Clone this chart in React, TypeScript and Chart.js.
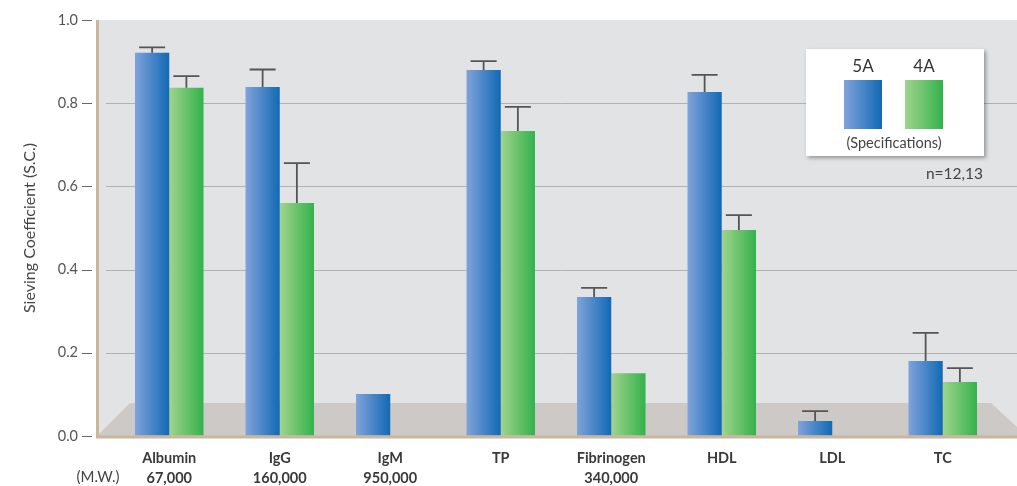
import React, { useEffect, useRef } from "react";
import { Chart, registerables } from "chart.js";

Chart.register(...registerables);

const categories: string[][] = [
  ["Albumin", "67,000"],
  ["IgG", "160,000"],
  ["IgM", "950,000"],
  ["TP"],
  ["Fibrinogen", "340,000"],
  ["HDL"],
  ["LDL"],
  ["TC"],
];
const series5A: (number | null)[] = [0.921, 0.839, 0.101, 0.88, 0.334, 0.827, 0.036, 0.18];
const series4A: (number | null)[] = [0.837, 0.56, null, 0.733, 0.151, 0.495, null, 0.13];
const err5A: (number | null)[] = [0.013, 0.042, null, 0.021, 0.022, 0.041, 0.024, 0.068];
const err4A: (number | null)[] = [0.028, 0.096, null, 0.058, null, 0.036, null, 0.033];
const yTicks: number[] = [0, 0.2, 0.4, 0.6, 0.8, 1.0];
const legendNames: string[] = ["5A", "4A"];
const legendNote = "(Specifications)";
const sampleNote = "n=12,13";
const mwLabel = "(M.W.)";
const yTitle = "Sieving Coefficient (S.C.)";

const FONT = "Lato, 'Open Sans', sans-serif";
const CAT_PCT = 0.62;
const gradStops = [
  ["#80a3da", "#1169b5"],
  ["#a0d48e", "#33b24b"],
];

function barGradient(c: any, dsIndex: number) {
  const chart = c.chart;
  const xs = chart.scales && chart.scales.x;
  if (!xs || c.dataIndex === undefined || !chart.chartArea) return gradStops[dsIndex][1];
  const center = xs.getPixelForValue(c.dataIndex);
  const w = (xs.width / categories.length) * CAT_PCT / 2;
  const x0 = dsIndex === 0 ? center - w : center;
  const g = chart.ctx.createLinearGradient(x0, 0, x0 + w, 0);
  g.addColorStop(0, gradStops[dsIndex][0]);
  g.addColorStop(1, gradStops[dsIndex][1]);
  return g;
}

const backgroundPlugin = {
  id: "bgPlugin",
  beforeDraw(chart: any) {
    const { ctx, chartArea, scales } = chart;
    const ys = scales.y;
    const left = 97;
    const right = chart.width;
    const top = chartArea.top;
    const bottom = ys.getPixelForValue(0);
    ctx.save();
    ctx.fillStyle = "#e2e3e5";
    ctx.fillRect(left, top, right - left, bottom - top);
    // floor
    const floorTop = bottom - 33;
    ctx.fillStyle = "#cdc9c6";
    ctx.beginPath();
    ctx.moveTo(left, bottom);
    ctx.lineTo(left + 33, floorTop);
    ctx.lineTo(right - 26, floorTop);
    ctx.lineTo(right, floorTop + 24);
    ctx.lineTo(right, bottom);
    ctx.closePath();
    ctx.fill();
    // grid lines
    ctx.strokeStyle = "#b0b1b3";
    ctx.lineWidth = 1;
    yTicks.forEach((t) => {
      if (t === 0 || t === 1) return;
      const y = Math.round(ys.getPixelForValue(t)) + 0.5;
      ctx.beginPath();
      ctx.moveTo(106, y);
      ctx.lineTo(right, y);
      ctx.stroke();
    });
    // tick dashes
    ctx.strokeStyle = "#666";
    yTicks.forEach((t) => {
      const y = Math.round(ys.getPixelForValue(t)) + 0.5;
      ctx.beginPath();
      ctx.moveTo(82, y);
      ctx.lineTo(92, y);
      ctx.stroke();
    });
    ctx.restore();
  },
  afterDatasetsDraw(chart: any) {
    const { ctx, scales } = chart;
    const ys = scales.y;
    const bottom = ys.getPixelForValue(0);
    const right = chart.width;
    const errs = [err5A, err4A];
    const vals = [series5A, series4A];
    ctx.save();
    ctx.strokeStyle = "#555";
    ctx.lineWidth = 1.8;
    [0, 1].forEach((di) => {
      const meta = chart.getDatasetMeta(di);
      meta.data.forEach((el: any, i: number) => {
        const v = vals[di][i];
        const e = errs[di][i];
        if (v == null || e == null) return;
        const yTop = ys.getPixelForValue(v + e);
        const cap = el.width * 0.76;
        ctx.beginPath();
        ctx.moveTo(el.x, el.y);
        ctx.lineTo(el.x, yTop);
        ctx.moveTo(el.x - cap / 2, yTop);
        ctx.lineTo(el.x + cap / 2, yTop);
        ctx.stroke();
      });
    });
    // frame: left and bottom tan lines
    ctx.strokeStyle = "#c8b79c";
    ctx.lineWidth = 3;
    ctx.beginPath();
    ctx.moveTo(97.5, chart.chartArea.top);
    ctx.lineTo(97.5, bottom + 1);
    ctx.lineTo(right, bottom + 1);
    ctx.stroke();
    ctx.restore();
  },
  afterDraw(chart: any) {
    const { ctx } = chart;
    ctx.save();
    // legend box
    ctx.shadowColor = "rgba(0,0,0,0.35)";
    ctx.shadowBlur = 4;
    ctx.shadowOffsetX = 2;
    ctx.shadowOffsetY = 2;
    ctx.fillStyle = "#ffffff";
    ctx.fillRect(806, 49, 178, 107);
    ctx.shadowColor = "transparent";
    ctx.shadowBlur = 0;
    ctx.shadowOffsetX = 0;
    ctx.shadowOffsetY = 0;
    const swX = [844, 905];
    swX.forEach((x, i) => {
      const g = ctx.createLinearGradient(x, 0, x + 38, 0);
      g.addColorStop(0, gradStops[i][0]);
      g.addColorStop(1, gradStops[i][1]);
      ctx.fillStyle = g;
      ctx.fillRect(x, 80, 38, 49);
      ctx.fillStyle = "#333";
      ctx.font = `17px ${FONT}`;
      ctx.textAlign = "center";
      ctx.textBaseline = "middle";
      ctx.fillText(legendNames[i], x + 19, 67);
    });
    ctx.fillStyle = "#444";
    ctx.font = `14.5px ${FONT}`;
    ctx.textAlign = "center";
    ctx.fillText(legendNote, 894, 143);
    ctx.font = `15.5px ${FONT}`;
    ctx.textAlign = "right";
    ctx.fillText(sampleNote, 983, 174);
    ctx.font = `15px ${FONT}`;
    ctx.textAlign = "center";
    ctx.fillText(mwLabel, 98, 477);
    ctx.restore();
  },
};

export default function App() {
  const ref = useRef<HTMLCanvasElement | null>(null);
  useEffect(() => {
    document.body.style.margin = "0";
    const canvas = ref.current;
    if (!canvas) return;
    const chart = new Chart(canvas, {
      type: "bar",
      data: {
        labels: categories,
        datasets: [
          {
            label: legendNames[0],
            data: series5A,
            backgroundColor: (c: any) => barGradient(c, 0),
            borderWidth: 0,
            categoryPercentage: CAT_PCT,
            barPercentage: 1,
          },
          {
            label: legendNames[1],
            data: series4A,
            backgroundColor: (c: any) => barGradient(c, 1),
            borderWidth: 0,
            categoryPercentage: CAT_PCT,
            barPercentage: 1,
          },
        ],
      },
      options: {
        animation: false,
        responsive: false,
        devicePixelRatio: 1,
        layout: { padding: { top: 20, right: 19, left: 0, bottom: 0 } },
        plugins: {
          legend: { display: false },
          tooltip: { enabled: false },
        },
        scales: {
          x: {
            grid: { display: false },
            border: { display: false },
            ticks: {
              color: "#3a3a3a",
              font: { family: FONT, size: 14.5, weight: "bold", lineHeight: 1.4 },
              padding: 4,
              maxRotation: 0,
              autoSkip: false,
            },
            afterFit: (s: any) => {
              s.height = 50;
            },
          },
          y: {
            min: 0,
            max: 1,
            grid: {
              display: true,
              drawOnChartArea: false,
              drawTicks: true,
              tickLength: 26,
              tickColor: "rgba(0,0,0,0)",
              color: "rgba(0,0,0,0)",
            },
            border: { display: false },
            afterBuildTicks: (s: any) => {
              s.ticks = yTicks.map((v) => ({ value: v }));
            },
            ticks: {
              color: "#555",
              font: { family: FONT, size: 14.5 },
              padding: 10,
              callback: (v: any) => Number(v).toFixed(1),
            },
            title: {
              display: true,
              text: yTitle,
              color: "#444",
              font: { family: FONT, size: 16 },
              padding: { top: 20, bottom: 0 },
            },
            afterFit: (s: any) => {
              s.width = 114;
            },
          },
        },
      },
      plugins: [backgroundPlugin],
    } as any);
    return () => chart.destroy();
  }, []);
  return (
    <div style={{ width: 1017, height: 486 }}>
      <canvas ref={ref} width={1017} height={486} style={{ display: "block" }} />
    </div>
  );
}
